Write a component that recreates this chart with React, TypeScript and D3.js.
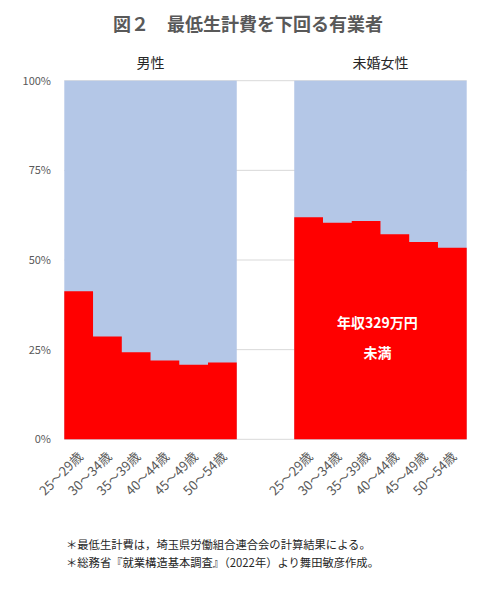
import React from "react";
import * as d3 from "d3";

const ageGroups = ["25～29歳", "30～34歳", "35～39歳", "40～44歳", "45～49歳", "50～54歳"];
const groupLabels = ["男性", "未婚女性"];
const maleValues = [41.3, 28.7, 24.3, 22.0, 20.8, 21.4];
const femaleValues = [61.9, 60.4, 60.9, 57.2, 55.0, 53.4];
const yTicks = [0, 25, 50, 75, 100];
const titleText = "図２　最低生計費を下回る有業者";
const annotationLines = ["年収329万円", "未満"];
const footnotes = [
  "＊最低生計費は，埼玉県労働組合連合会の計算結果による。",
  "＊総務省『就業構造基本調査』（2022年）より舞田敏彦作成。",
];

const FONT = "'Noto Sans CJK JP', 'Noto Sans', sans-serif";

export default function App() {
  const W = 498, H = 600;
  const left = 64.3, right = 466.7, top = 80.7, bottom = 439.3;

  const slots = [
    ...ageGroups.map((a, i) => ({ key: "m" + i, label: a, value: maleValues[i] })),
    { key: "gap1", label: "", value: null as number | null },
    { key: "gap2", label: "", value: null as number | null },
    ...ageGroups.map((a, i) => ({ key: "f" + i, label: a, value: femaleValues[i] })),
  ];

  const x = d3.scaleBand<string>().domain(slots.map((s) => s.key)).range([left, right]).paddingInner(0).paddingOuter(0);
  const y = d3.scaleLinear().domain([0, 100]).range([bottom, top]);
  const bw = x.bandwidth();

  const series = [
    { label: groupLabels[0], keys: ageGroups.map((_, i) => "m" + i), values: maleValues },
    { label: groupLabels[1], keys: ageGroups.map((_, i) => "f" + i), values: femaleValues },
  ];
  const groups = series.map((s) => ({
    label: s.label,
    start: x(s.keys[0])!,
    end: x(s.keys[s.keys.length - 1])! + bw,
    pts: s.keys.flatMap((k, i) => [
      [x(k)!, s.values[i]] as [number, number],
      [x(k)! + bw, s.values[i]] as [number, number],
    ]),
  }));
  const area = d3.area<[number, number]>().x((d) => d[0]).y0(y(0)).y1((d) => y(d[1]));
  const femaleCenter = (groups[1].start + groups[1].end) / 2;

  return (
    <svg width={W} height={H} style={{ position: "absolute", left: 0, top: 0, background: "#fff" }} fontFamily={FONT}>
      <rect x={0} y={0} width={W} height={H} fill="#fff" />
      <text x={248} y={31} textAnchor="middle" fontSize={18} fontWeight="bold" fill="#595959">
        {titleText}
      </text>
      {groups.map((g) => (
        <text key={g.label} x={(g.start + g.end) / 2} y={68} textAnchor="middle" fontSize={14} fill="#262626">{g.label}</text>
      ))}

      {yTicks.map((t) => (
        <g key={t}>
          <line x1={left} x2={right} y1={y(t)} y2={y(t)} stroke="#D9D9D9" strokeWidth={1} />
          <text x={51} y={y(t) + 4} textAnchor="end" fontSize={11} fill="#595959">{t + "%"}</text>
        </g>
      ))}

      {groups.map((g) => (
        <g key={"grp" + g.label}>
          <rect x={g.start} y={y(100)} width={g.end - g.start} height={y(0) - y(100)} fill="#B4C7E7" />
          <path d={area(g.pts) || ""} fill="#FF0000" />
        </g>
      ))}

      {slots.filter((s) => s.label).map((s) => {
        const cx = x(s.key)! + bw / 2 + 2;
        const cy = bottom + 15;
        return (
          <text key={"l" + s.key} x={cx} y={cy} textAnchor="end" fontSize={13} fill="#595959"
            transform={`rotate(-45, ${cx}, ${cy})`} dy="0.35em">
            {s.label}
          </text>
        );
      })}

      {annotationLines.map((t, i) => (
        <text key={t} x={femaleCenter - 3} y={328 + i * 30} textAnchor="middle" fontSize={14} fontWeight="bold" fill="#fff">
          {t}
        </text>
      ))}

      {footnotes.map((t, i) => (
        <text key={i} x={66} y={549 + i * 18} fontSize={11.3} fill="#262626">{t}</text>
      ))}
    </svg>
  );
}
